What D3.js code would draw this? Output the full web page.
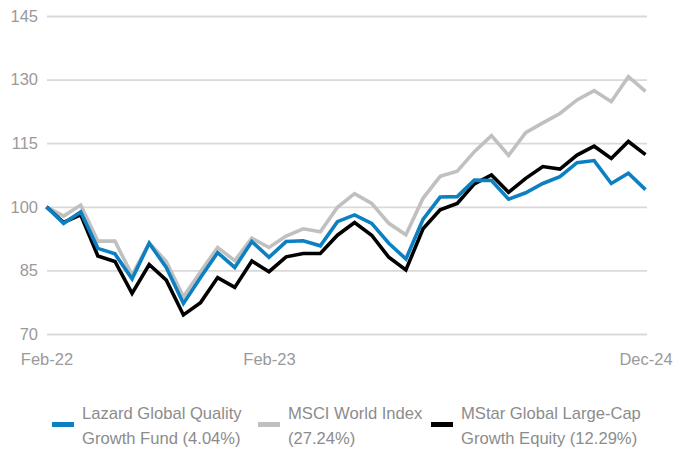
<!DOCTYPE html>
<html>
<head>
<meta charset="utf-8">
<script src="https://cdn.jsdelivr.net/npm/d3@7"></script>
<style>
  html, body { margin: 0; padding: 0; background: #fff; }
  svg { display: block; font-family: "Liberation Sans", Arial, sans-serif; }
</style>
</head>
<body>
<svg id="chart" width="673" height="452"></svg>
<script>
// ---- data ----
const months = ["Jan-22","Feb-22","Mar-22","Apr-22","May-22","Jun-22","Jul-22","Aug-22","Sep-22","Oct-22","Nov-22","Dec-22",
                "Jan-23","Feb-23","Mar-23","Apr-23","May-23","Jun-23","Jul-23","Aug-23","Sep-23","Oct-23","Nov-23","Dec-23",
                "Jan-24","Feb-24","Mar-24","Apr-24","May-24","Jun-24","Jul-24","Aug-24","Sep-24","Oct-24","Nov-24","Dec-24"];
const lazard = [100, 96.1, 98.8, 90.2, 88.9, 83.0, 91.4, 85.7, 77.2, 83.3, 89.2, 85.7,
                91.8, 88.1, 91.8, 92.0, 90.8, 96.5, 98.1, 96.1, 91.4, 87.7, 97.0, 102.3,
                102.4, 106.3, 106.2, 101.8, 103.3, 105.5, 107.1, 110.4, 110.9, 105.5, 107.9, 104.04];
const msci   = [100, 97.8, 100.4, 91.9, 91.9, 83.9, 91.5, 87.1, 78.8, 84.7, 90.4, 87.3,
                92.6, 90.4, 93.1, 94.8, 94.1, 99.9, 103.1, 100.8, 96.1, 93.4, 102.0, 107.2,
                108.4, 113.0, 116.8, 112.1, 117.5, 119.8, 122.0, 125.2, 127.4, 124.8, 130.7, 127.24];
const mstar  = [100, 96.3, 98.1, 88.4, 87.1, 79.6, 86.4, 82.7, 74.5, 77.4, 83.3, 81.0,
                87.2, 84.7, 88.2, 89.0, 89.0, 93.3, 96.3, 93.3, 88.1, 85.1, 94.8, 99.3,
                100.8, 105.4, 107.5, 103.4, 106.7, 109.5, 108.9, 112.2, 114.3, 111.4, 115.4, 112.29];
const yTicks = [70, 85, 100, 115, 130, 145];
const xTickIndex = [0, 13, 35];
const xTickLabels = ["Feb-22", "Feb-23", "Dec-24"];
const seriesNames = [["Lazard Global Quality", "Growth Fund (4.04%)"],
                     ["MSCI World Index", "(27.24%)"],
                     ["MStar Global Large-Cap", "Growth Equity (12.29%)"]];

// ---- chart ----
const svg = d3.select("#chart");
const x = d3.scalePoint().domain(d3.range(months.length)).range([46.5, 645.5]);
const y = d3.scaleLinear().domain([70, 145]).range([334, 16]);

// gridlines + y labels
const yAxis = d3.axisLeft(y).tickValues(yTicks).tickSize(-600).tickPadding(9).tickFormat(d3.format("d"));
const gy = svg.append("g").attr("transform", "translate(47,0)").call(yAxis);
gy.select(".domain").remove();
gy.selectAll(".tick line").attr("stroke", "#d9d9d9").attr("stroke-width", 1.8);
gy.selectAll(".tick text").attr("fill", "#9a9a9a").attr("font-size", "16.5px").attr("x", -9);

// x labels
const xAxis = d3.axisBottom(x).tickValues(xTickIndex).tickSize(0).tickPadding(0)
  .tickFormat((d) => xTickLabels[xTickIndex.indexOf(d)]);
const gx = svg.append("g").attr("transform", "translate(0,353)").call(xAxis);
gx.select(".domain").remove();
gx.selectAll(".tick text").attr("fill", "#9a9a9a").attr("font-size", "16.5px").attr("dy", "0.71em");

// lines
const line = d3.line().x((d, i) => x(i)).y((d) => y(d));
const series = [
  { values: msci,   color: "#c0c0c0" },
  { values: mstar,  color: "#000000" },
  { values: lazard, color: "#0c80c0" }
];
svg.append("g").selectAll("path").data(series).join("path")
  .attr("d", (s) => line(s.values))
  .attr("fill", "none")
  .attr("stroke", (s) => s.color)
  .attr("stroke-width", 3.6)
  .attr("stroke-linejoin", "miter");

// legend
const legendItems = [
  { name: seriesNames[0], color: "#0c80c0", sx: 52, tx: 82 },
  { name: seriesNames[1], color: "#c0c0c0", sx: 258, tx: 288 },
  { name: seriesNames[2], color: "#000000", sx: 431, tx: 461 }
];
const lg = svg.append("g").selectAll("g").data(legendItems).join("g");
lg.append("rect")
  .attr("x", (d) => d.sx).attr("y", 422).attr("width", 22).attr("height", 5)
  .attr("fill", (d) => d.color);
lg.each(function(d) {
  const t = d3.select(this).append("text").attr("fill", "#8c8c8c").attr("font-size", "16.6px");
  t.append("tspan").attr("x", d.tx).attr("y", 419).text(d.name[0]);
  t.append("tspan").attr("x", d.tx).attr("y", 444).text(d.name[1]);
});
</script>
</body>
</html>
